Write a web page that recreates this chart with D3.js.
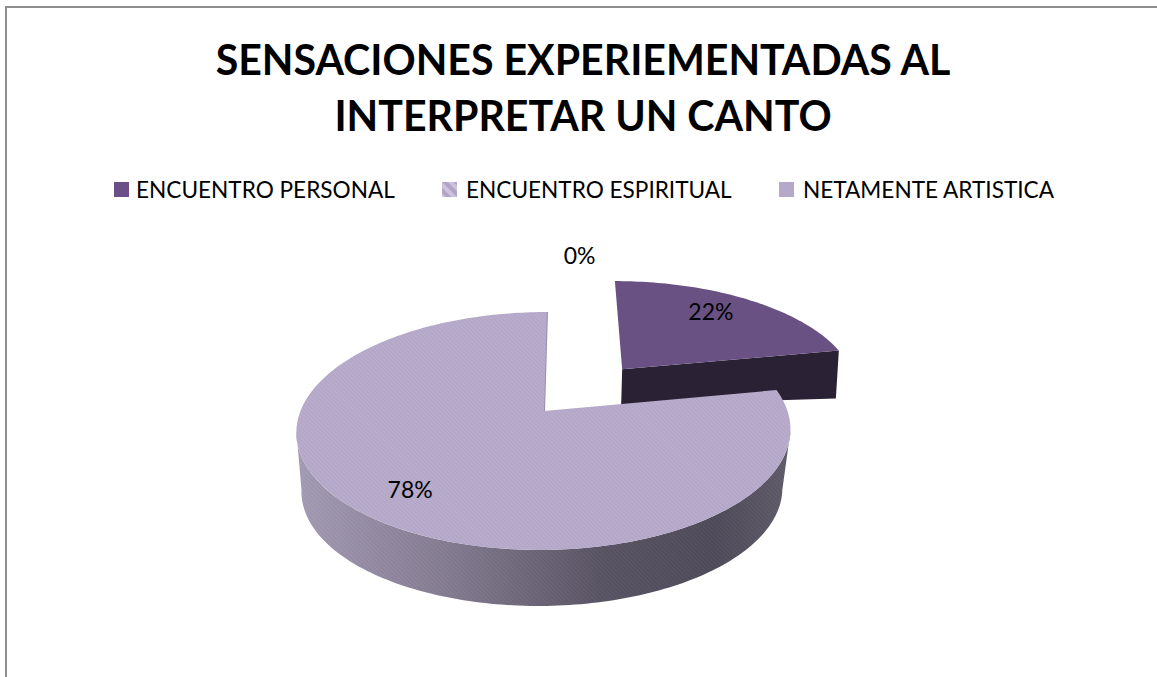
<!DOCTYPE html>
<html>
<head>
<meta charset="utf-8">
<script src="https://cdn.jsdelivr.net/npm/d3@7"></script>
<style>
  html, body { margin: 0; background: #fff; }
  text { font-family: Lato, "Open Sans", sans-serif; fill: #000; }
</style>
</head>
<body>
<div id="chart"></div>
<script>
// chart values
const title_lines = ["SENSACIONES EXPERIEMENTADAS AL", "INTERPRETAR UN CANTO"];
const categories = ["ENCUENTRO PERSONAL", "ENCUENTRO ESPIRITUAL", "NETAMENTE ARTISTICA"];
const percents = [22, 0, 78];
const exploded = [0.5, 0, 0];   // how far each slice is pulled out, in radii

const width = 1157, height = 677;

let svg = d3.select("#chart").append("svg")
            .attr("width", width)
            .attr("height", height)
            .style("display", "block");

let defs = svg.append("defs");

//fine diagonal hatch that the big slice has all over
function addHatch(id, size, light, dark, opacity) {
  let p = defs.append("pattern")
              .attr("id", id)
              .attr("width", size)
              .attr("height", size)
              .attr("patternUnits", "userSpaceOnUse")
              .attr("patternTransform", "rotate(45)");
  p.append("rect").attr("width", size).attr("height", size / 2).attr("fill", light).attr("opacity", opacity);
  p.append("rect").attr("y", size / 2).attr("width", size).attr("height", size / 2).attr("fill", dark).attr("opacity", opacity);
}
addHatch("fine", 3, "#ffffff", "#000000", 0.035);
addHatch("coarse", 8, "#cdc3dc", "#b2a4c9", 1);

let wallGrad = defs.append("linearGradient").attr("id", "wall");
[[0, "#a59cb6"], [0.3, "#857c92"], [0.62, "#585363"], [0.85, "#4e4a59"], [1, "#5f5b69"]].forEach(function(s) {
  wallGrad.append("stop").attr("offset", s[0]).attr("stop-color", s[1]);
});

////////////////// pie projection ////////////////////////////////////

// the pie lies on a tilted plane, so the back is squeezed compared to the front
const topPlane = { x0: 544, y0: 411, bx: 243.5, by: 115.6, k: 0.168, skew: 3.5 };
const lowPlane = { x0: 542.5, y0: 470.5, bx: 237, by: 112.7, k: 0.168, skew: 3.5 };
const smallPlane = { x0: 548, y0: 411, bx: 243.5, by: 115.6, k: 0.168, skew: 3.5 };

// u,v on the unit disc -> screen
function toScreen(u, v, plane) {
  let w = 1 - plane.k * v;
  return [plane.x0 + (plane.bx * u - plane.skew * v) / w, plane.y0 + plane.by * v / w];
}

let slices = d3.pie().sort(null).startAngle(0).endAngle(2 * Math.PI)(percents);

slices.forEach(function(s, i) {
  let mid = (s.startAngle + s.endAngle) / 2;
  s.mid = mid;
  s.du = exploded[i] * Math.sin(mid);
  s.dv = -exploded[i] * Math.cos(mid);
});

// angle clockwise from 12 o'clock, as d3.pie gives it
function point(s, angle, r, plane) {
  return toScreen(s.du + r * Math.sin(angle), s.dv - r * Math.cos(angle), plane);
}

function arcPoints(s, a0, a1, plane) {
  let n = Math.max(2, Math.ceil((a1 - a0) / 0.02));
  return d3.range(n + 1).map(function(i) { return point(s, a0 + (a1 - a0) * i / n, 1, plane); });
}

let closed = d3.line().curve(d3.curveLinearClosed);

function facePath(s, plane) {
  return closed([point(s, 0, 0, plane)].concat(arcPoints(s, s.startAngle, s.endAngle, plane)));
}

////////////////// drawing ////////////////////////////////////

// frame: only the top and left lines are inside the picture
svg.append("path")
   .attr("d", `M6,${height}V7H${width}`)
   .attr("fill", "none")
   .attr("stroke", "#8e8e8e")
   .attr("stroke-width", 2);

// title
svg.selectAll(".title")
   .data(title_lines)
   .enter().append("text")
   .attr("class", "title")
   .attr("x", 583)
   .attr("y", function(d, i) { return 75 + i * 56; })
   .attr("text-anchor", "middle")
   .style("font-size", "41.1px")
   .style("font-weight", 700)
   .text(function(d) { return d; });

// legend
const legendX = [114, 442, 779];
const legendFill = ["#6b4f87", "url(#coarse)", "#b5a8c8"];
let legend = svg.selectAll(".legend")
                .data(categories)
                .enter().append("g")
                .attr("class", "legend")
                .attr("transform", function(d, i) { return `translate(${legendX[i]},182)`; });
legend.append("rect")
      .attr("width", 15)
      .attr("height", 15)
      .attr("fill", function(d, i) { return legendFill[i]; });
legend.append("text")
      .attr("x", function(d, i) { return i === 0 ? 22 : 24; })
      .attr("y", 16)
      .style("font-size", "22.6px")
      .text(function(d) { return d; });

// exploded slice: its wall first, then its face
let small = slices[0], big = slices[2];
let depthY = d3.scaleLinear().domain([0, 1]).range([36, 48]);
let depthX = d3.scaleLinear().domain([0, 1]).range([-1, -3]);
let rimA = point(small, 0, 0, smallPlane), rimB = point(small, small.endAngle, 1, smallPlane);
svg.append("path")
   .attr("d", closed([rimA, rimB,
                      [rimB[0] + depthX(1), rimB[1] + depthY(1)],
                      [rimA[0] + depthX(0), rimA[1] + depthY(0)]]))
   .attr("fill", "#2a2135");
svg.append("path")
   .attr("d", facePath(small, smallPlane))
   .attr("fill", "#695283");

// big slice: wall from one silhouette tangent to the other, going round the front
let tangent = Math.acos(-topPlane.k);
let a0 = tangent, a1 = 2 * Math.PI - tangent;
let wallPath = closed(arcPoints(big, a0, a1, topPlane).concat(arcPoints(big, a0, a1, lowPlane).reverse()));
svg.append("path").attr("d", wallPath).attr("fill", "url(#wall)");
svg.append("path").attr("d", wallPath).attr("fill", "url(#fine)");

// thin inner wall seen along the cut at 12 o'clock
svg.append("path")
   .attr("d", d3.line()([point(big, 0, 0, topPlane), point(big, 0, 1, topPlane)]))
   .attr("stroke", "#9a8dab")
   .attr("stroke-width", 2)
   .attr("fill", "none");

svg.append("path").attr("d", facePath(big, topPlane)).attr("fill", "#b8abcc");
svg.append("path").attr("d", facePath(big, topPlane)).attr("fill", "url(#fine)");

// value labels, the empty slice has its label moved up over the gap
const labelSpread = 0.95;
svg.selectAll(".label")
   .data(slices)
   .enter().append("text")
   .attr("class", "label")
   .attr("text-anchor", "middle")
   .style("font-size", "23px")
   .attr("transform", function(d) {
     let p = d.value === 0 ? point(d, 0.1, 1.74, topPlane) : point(d, d.mid, 0.8, topPlane);
     return `translate(${topPlane.x0 + (p[0] - topPlane.x0) * labelSpread},${p[1] + 8})`;
   })
   .text(function(d) { return d.value + "%"; });
</script>
</body>
</html>
